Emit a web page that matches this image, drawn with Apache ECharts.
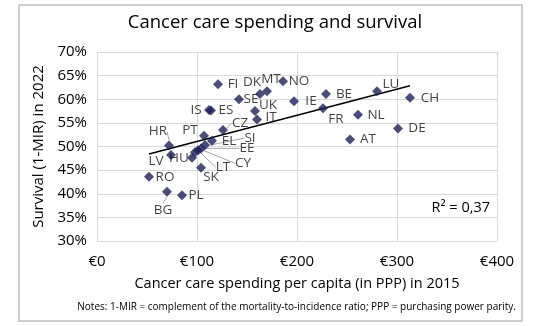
<!DOCTYPE html>
<html><head><meta charset="utf-8">
<script src="https://cdn.jsdelivr.net/npm/echarts@6/dist/echarts.min.js"></script>
<style>html,body{margin:0;padding:0;background:#fff}#c{width:533px;height:326px}</style>
</head><body><div id="c"></div>
<script>
// ---- data ----
const countries = ['FI','DK','MT','NO','SE','IS','ES','UK','IT','CZ','IE','BE','FR','AT','NL','LU','CH','DE','HR','LV','HU','PT','EL','SI','EE','CY','LT','SK','RO','BG','PL'];
const spending  = [121,163,170,186,142,112,114,158,160,126,197,229,226,253,261,280,313,301,72,74,95,107,115,108,104,101,98,104,52,70,85];
const survival  = [63.2,61.1,61.7,63.8,60.0,57.7,57.6,57.5,55.7,53.5,59.6,61.1,58.1,51.5,56.7,61.7,60.3,53.8,50.2,48.2,47.6,52.3,51.2,50.3,49.6,49.2,48.8,45.5,43.6,40.4,39.7];
const xTickValues = [0,100,200,300,400];
const yTickValues = [30,35,40,45,50,55,60,65,70];
const rSquaredText = 'R² = 0,37';

// ---- label placement (style only) ----
const labelOffsets = {
  FI:[15,0], DK:[-8,-12], MT:[4,-12], NO:[16,0], SE:[12,0], IS:[-13,0], ES:[15,0],
  UK:[13,-6], IT:[14,-2], CZ:[17,-7], IE:[17,0], BE:[18,0], FR:[13,11], AT:[18,0],
  NL:[18,0], LU:[14,-7], CH:[20,0], DE:[19,0], HR:[-11,-14], LV:[-15,6], HU:[-13,0],
  PT:[-14,-5], EL:[17,0], SI:[45,-7], EE:[46,0], CY:[45,13], LT:[28,15], SK:[10,9],
  RO:[16,0], BG:[-4,18], PL:[14,0]
};
const leader = new Set(['CZ','HR','SI','EE','CY','LT','BG']);

// ---- trend line (least squares from the data) ----
const n = spending.length;
const mx = spending.reduce((a,b)=>a+b,0)/n, my = survival.reduce((a,b)=>a+b,0)/n;
let sxy=0, sxx=0;
for (let i=0;i<n;i++){ sxy+=(spending[i]-mx)*(survival[i]-my); sxx+=(spending[i]-mx)**2; }
const slope = sxy/sxx, icpt = my - slope*mx;
const xMin = Math.min(...spending), xMax = Math.max(...spending);

const font = 'Open Sans';
const chart = echarts.init(document.getElementById('c'), null, {renderer:'canvas'});
chart.setOption({
  animation:false,
  backgroundColor:'#fff',
  textStyle:{fontFamily:font},
  title:{text:'Cancer care spending and survival', left:270, top:8, textAlign:'center',
    textStyle:{fontFamily:font, fontSize:18.5, fontWeight:'normal', color:'#000'}},
  grid:{left:97, top:52, width:400, height:189, containLabel:false},
  xAxis:{type:'value', min:xTickValues[0], max:xTickValues[xTickValues.length-1], interval:100,
    axisLine:{show:false}, axisTick:{show:false},
    splitLine:{show:true, showMinLine:true, showMaxLine:true, lineStyle:{color:'#d9d9d9', width:1}},
    axisLabel:{formatter:v=>'€'+v, fontSize:15, color:'#000', margin:13, fontFamily:font},
    name:'Cancer care spending per capita (in PPP) in 2015', nameLocation:'middle', nameGap:35,
    nameTextStyle:{fontSize:14.5, color:'#000', fontFamily:font}},
  yAxis:{type:'value', min:yTickValues[0], max:yTickValues[yTickValues.length-1], interval:5,
    axisLine:{show:false}, axisTick:{show:false},
    splitLine:{show:true, showMinLine:true, showMaxLine:true, lineStyle:{color:'#d9d9d9', width:1}},
    axisLabel:{formatter:v=>v+'%', fontSize:15, color:'#000', margin:10, fontFamily:font},
    name:'Survival (1-MIR) in 2022', nameLocation:'middle', nameGap:50, nameRotate:90,
    nameTextStyle:{fontSize:15, color:'#000', fontFamily:font}},
  graphic:[
    {type:'rect', shape:{x:19, y:5, width:503, height:316}, style:{fill:'none', stroke:'#bfbfbf', lineWidth:1.5}, z:-1},
    {type:'text', x:490, y:208, style:{text:rSquaredText, fontSize:14.5, fill:'#000', fontFamily:font, align:'right', verticalAlign:'middle'}},
    {type:'text', x:516, y:307, style:{text:'Notes: 1-MIR = complement of the mortality-to-incidence ratio; PPP = purchasing power parity.', fontSize:10, fill:'#000', fontFamily:font, align:'right', verticalAlign:'middle'}}
  ],
  series:[
    {type:'line', data:[[xMin, icpt+slope*xMin],[xMax, icpt+slope*xMax]], showSymbol:false, symbol:'none',
      lineStyle:{color:'#000', width:1.5}, silent:true, z:3},
    {type:'scatter', symbol:'diamond', symbolSize:10, z:4,
      itemStyle:{color:'#1e2157'},
      label:{show:true, position:'inside', formatter:p=>p.name, fontSize:13.5, color:'#111', fontFamily:font},
      labelLine:{show:false, lineStyle:{color:'#a6a6a6', width:1}},
      labelLayout:function(p){ const o = labelOffsets[countries[p.dataIndex]]; return {dx:o[0], dy:o[1]}; },
      data:countries.map((c,i)=>({name:c, value:[spending[i], survival[i]],
        labelLine:{show:leader.has(c), lineStyle:{color:'#a6a6a6', width:1}}}))
    }
  ]
});
</script></body></html>
